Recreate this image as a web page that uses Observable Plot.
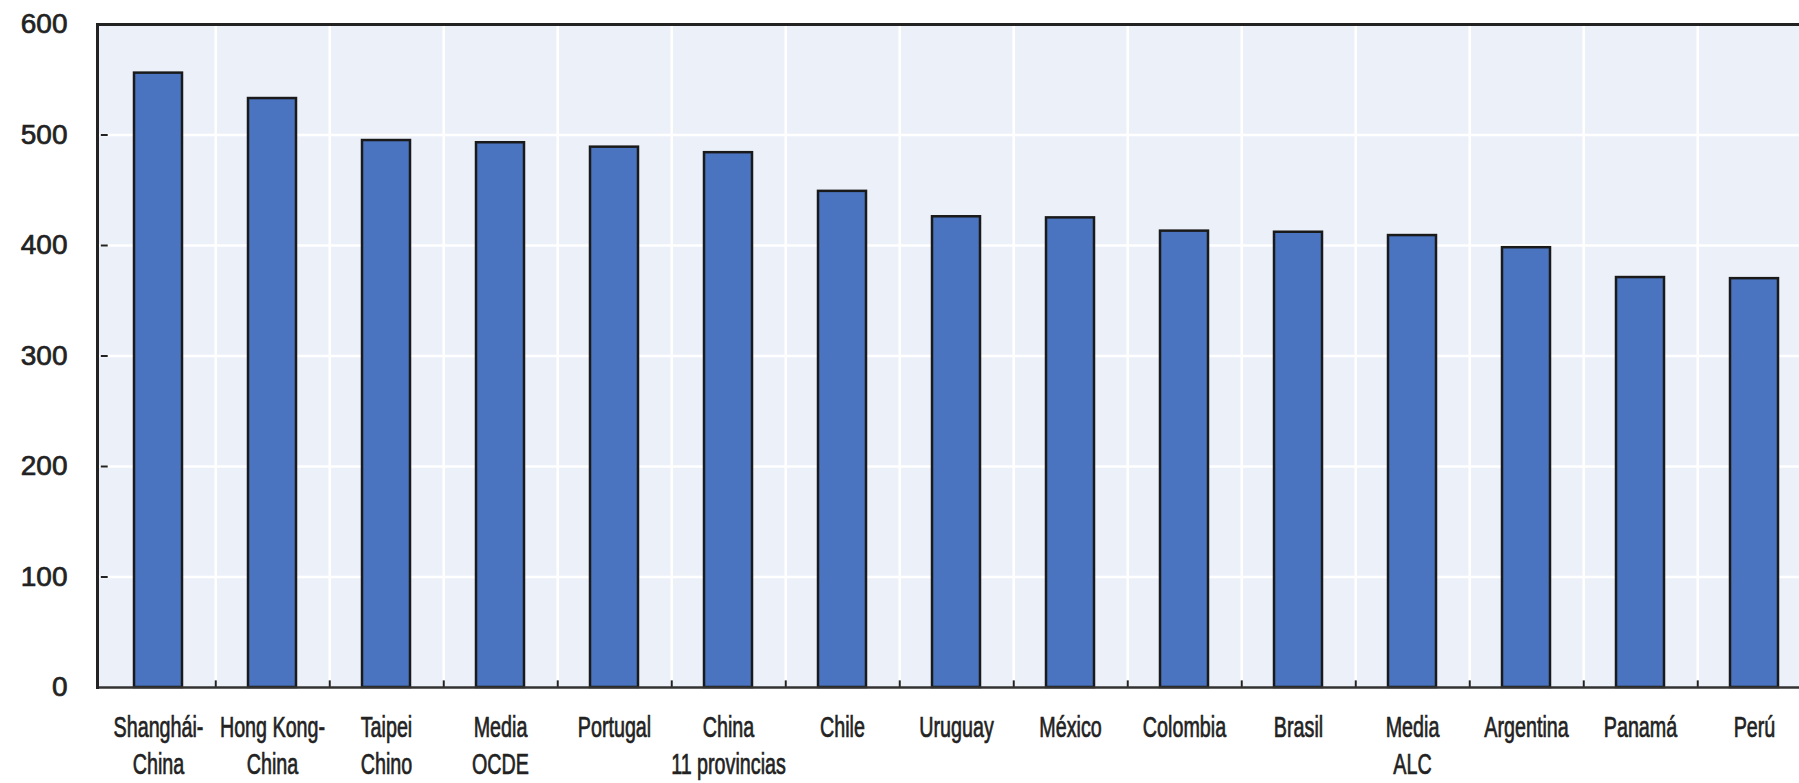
<!DOCTYPE html>
<html>
<head>
<meta charset="utf-8">
<script src="https://cdn.jsdelivr.net/npm/d3@7"></script>
<script src="https://cdn.jsdelivr.net/npm/@observablehq/plot@0.6"></script>
<style>
  html, body { margin: 0; padding: 0; background: #fff; overflow: hidden; }
  #chart svg { display: block; }
</style>
</head>
<body>
<div id="chart"></div>
<script>
const categories = ["Shanghái-China", "Hong Kong-China", "Taipei Chino", "Media OCDE", "Portugal", "China 11 provincias", "Chile", "Uruguay", "México", "Colombia", "Brasil", "Media ALC", "Argentina", "Panamá", "Perú"];
const tickLabels = ["Shanghái-\nChina", "Hong Kong-\nChina", "Taipei\nChino", "Media\nOCDE", "Portugal", "China\n11 provincias", "Chile", "Uruguay", "México", "Colombia", "Brasil", "Media\nALC", "Argentina", "Panamá", "Perú"];
const values = [556, 533, 495, 493, 489, 484, 449, 426, 425, 413, 412, 409, 398, 371, 370];
const yTicks = [0, 100, 200, 300, 400, 500, 600];

const data = categories.map((c, i) => ({cat: c, value: values[i]}));
const labelOf = new Map(categories.map((c, i) => [c, tickLabels[i]]));

const W = 1799, H = 783;
const mLeft = 97, mTop = 24, mBottom = 96;
const step = 114.5;
const xEnd = mLeft + step * categories.length;
const bandW = step * 0.42;
const barStart = mLeft + step * 0.29;

const plot = Plot.plot({
  width: W,
  height: H,
  marginLeft: mLeft,
  marginRight: 0,
  marginTop: mTop,
  marginBottom: mBottom,
  style: {fontFamily: "'Liberation Sans', Arial, sans-serif", color: "#222", background: "#fff"},
  x: {type: "band", domain: categories, range: [mLeft, xEnd], paddingInner: 0.58, paddingOuter: 0.29, label: null},
  y: {domain: [0, 600], label: null},
  marks: [
    Plot.frame({fill: "#ECF0F8", stroke: null}),
    Plot.ruleY(yTicks.filter(d => d > 0 && d < 600), {stroke: "#fff", strokeWidth: 2.5}),
    Plot.ruleX(categories, {x: d => d, dx: step / 2, stroke: "#fff", strokeWidth: 2.5}),
    Plot.barY(data, {x: "cat", y: "value", fill: "#4A74C0", stroke: "#1a1a1a", strokeWidth: 2.5}),
    Plot.ruleX(categories, {x: d => d, dx: step / 2, y1: 0, y2: 6, stroke: "#222", strokeWidth: 2}),
    Plot.tickY(yTicks.filter(d => d > 0 && d < 600), {y: d => d, x: () => categories[0], insetLeft: -(barStart - mLeft), insetRight: barStart + bandW - (mLeft + 7), stroke: "#222", strokeWidth: 2}),
    Plot.ruleY([600], {stroke: "#222", strokeWidth: 3}),
    Plot.ruleY([0], {stroke: "#333", strokeWidth: 2.5}),
    Plot.frame({anchor: "left", stroke: "#222", strokeWidth: 3}),
    Plot.axisY({ticks: yTicks, tickSize: 0, tickPadding: 30, fontSize: 28, label: null, tickFormat: d => String(d)}),
    Plot.axisX({tickSize: 0, tickPadding: 23, fontSize: 29, lineHeight: 1.28, label: null, tickFormat: d => labelOf.get(d), textAnchor: "middle", lineAnchor: "top"})
  ]
});
// condense the category labels horizontally, as in the reference's narrow typeface
d3.select(plot).selectAll('g[aria-label="x-axis tick label"] text').each(function() {
  const t = this.getAttribute("transform") || "";
  this.setAttribute("transform", t + " scale(0.68,1)");
});
// slightly heavier strokes for all axis labels
d3.select(plot).selectAll('g[aria-label="x-axis tick label"], g[aria-label="y-axis tick label"]')
  .attr("stroke", "#222").attr("stroke-width", 0.7);
document.getElementById("chart").appendChild(plot);
</script>
</body>
</html>
